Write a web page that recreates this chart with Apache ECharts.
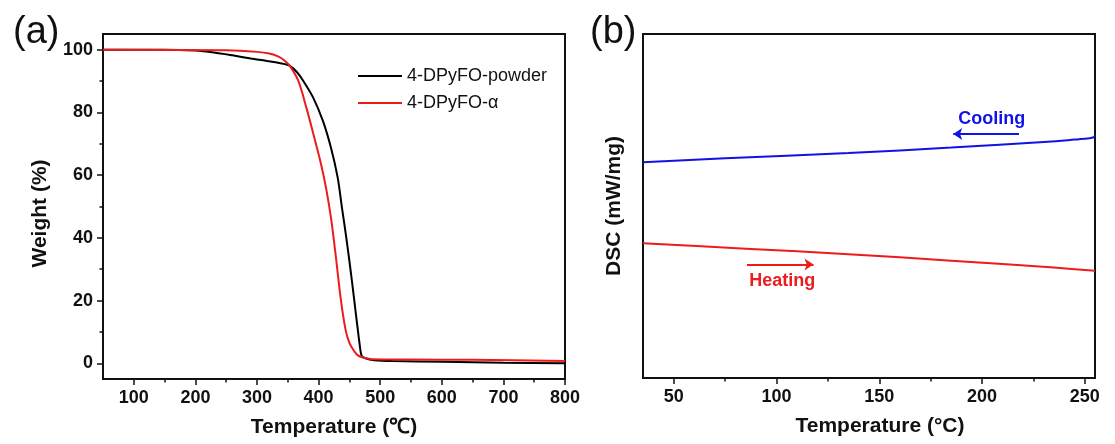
<!DOCTYPE html>
<html>
<head>
<meta charset="utf-8">
<script src="https://cdn.jsdelivr.net/npm/echarts@6/dist/echarts.min.js"></script>
<style>
  html, body { margin: 0; padding: 0; background: #fff; }
  #chart { width: 1115px; height: 444px; }
</style>
</head>
<body>
<div id="chart"></div>
<script>
// (a) TGA curves
const powderTemp = [50, 150, 200, 230, 260, 290, 310, 330, 345, 353, 365, 375, 391, 407, 420, 431, 438, 445, 453, 461, 467, 470, 476, 490, 520, 600, 700, 800];
const powderWeight = [100, 100, 99.7, 99.1, 98.2, 97.2, 96.6, 96.0, 95.4, 94.9, 92.8, 90.1, 84.8, 77.3, 68.8, 59.2, 49.5, 40, 28, 15, 5.5, 2.4, 1.6, 1.0, 0.7, 0.5, 0.2, 0];
const alphaTemp = [50, 250, 300, 320, 335, 345, 353, 367, 380, 393, 404, 412, 420, 428, 436, 444, 450, 456, 462, 469, 487, 550, 650, 800];
const alphaWeight = [100, 99.8, 99.3, 98.8, 97.8, 96.5, 94.9, 90.1, 81.6, 72, 63.5, 56, 46.5, 34, 20.5, 10.5, 6.5, 4.4, 2.8, 2.0, 1.3, 1.2, 1.1, 0.7];
const tgaXLabels = [100, 200, 300, 400, 500, 600, 700, 800];
const tgaXMinor = [150, 250, 350, 450, 550, 650, 750];
const tgaYLabels = [0, 20, 40, 60, 80, 100];
const tgaYMinor = [10, 30, 50, 70, 90];

// (b) DSC curves
const coolTemp = [35, 75, 135, 185, 232, 245, 251, 254, 255];
const coolDsc = [62.7, 63.9, 65.4, 67.0, 68.7, 69.3, 69.6, 69.9, 70.5];
const heatTemp = [35, 85, 135, 185, 235, 255];
const heatDsc = [39.2, 37.6, 36.0, 34.1, 32.1, 31.2];
const dscXLabels = [50, 100, 150, 200, 250];
const dscXMinor = [75, 125, 175, 225];
const coolArrow = [[218, 70.9], [186, 70.9]];
const coolText = [204.7, 75.2];
const heatArrow = [[85.6, 33.0], [118, 33.0]];
const heatText = [102.8, 28.2];

const FONT = '"Liberation Sans", Arial, sans-serif';
const BLUE = '#1212e8';
const RED = '#ec1c1c';

const zip = (xs, ys) => xs.map((x, i) => [x, ys[i]]);

const tickLabel = { fontFamily: FONT, fontSize: 18, fontWeight: 'bold', color: '#111' };
const axisName = { fontFamily: FONT, fontSize: 21, fontWeight: 'bold', color: '#111' };
const line = { show: true, onZero: false, lineStyle: { color: '#111', width: 2 } };

function mainX(grid, min, max, labels, name, extra) {
  return Object.assign({
    gridIndex: grid, type: 'value', min: min, max: max, position: 'bottom',
    axisLine: line,
    axisTick: { show: true, inside: false, length: 6, customValues: labels, lineStyle: { color: '#111', width: 1.5 } },
    axisLabel: { show: true, customValues: labels, margin: 10, ...tickLabel },
    splitLine: { show: false },
    name: name, nameLocation: 'middle', nameGap: 38, nameTextStyle: axisName
  }, extra || {});
}
function minorX(grid, min, max, ticks) {
  return {
    gridIndex: grid, type: 'value', min: min, max: max, position: 'bottom',
    axisLine: { show: false, onZero: false },
    axisTick: { show: true, length: 3.5, customValues: ticks, lineStyle: { color: '#111', width: 1.5 } },
    axisLabel: { show: false }, splitLine: { show: false }
  };
}

const chart = echarts.init(document.getElementById('chart'));
chart.setOption({
  backgroundColor: '#fff',
  animation: false,
  title: [
    { text: '(a)', left: 8, top: 9, textStyle: { fontFamily: FONT, fontSize: 38, fontWeight: 'normal', color: '#111' } },
    { text: '(b)', left: 585, top: 9, textStyle: { fontFamily: FONT, fontSize: 38, fontWeight: 'normal', color: '#111' } }
  ],
  legend: {
    orient: 'vertical', left: 353, top: 62, itemGap: 9, itemWidth: 44, itemHeight: 2.2, icon: 'rect',
    data: ['4-DPyFO-powder', '4-DPyFO-α'],
    textStyle: { fontFamily: FONT, fontSize: 18, color: '#111' }
  },
  grid: [
    { left: 103, top: 34, width: 462, height: 345, show: true, borderColor: '#111', borderWidth: 2 },
    { left: 643, top: 34, width: 452, height: 344, show: true, borderColor: '#111', borderWidth: 2 }
  ],
  xAxis: [
    mainX(0, 50, 800, tgaXLabels, 'Temperature (℃)'),
    minorX(0, 50, 800, tgaXMinor),
    mainX(1, 35, 255, dscXLabels, 'Temperature (°C)', { nameTextStyle: Object.assign({ padding: [0, 0, 0, 22] }, axisName) }),
    minorX(1, 35, 255, dscXMinor)
  ],
  yAxis: [
    {
      gridIndex: 0, type: 'value', min: -5, max: 105, position: 'left',
      axisLine: line,
      axisTick: { show: true, length: 6, customValues: tgaYLabels, lineStyle: { color: '#111', width: 1.5 } },
      axisLabel: { show: true, customValues: tgaYLabels, margin: 10, ...tickLabel },
      splitLine: { show: false },
      name: 'Weight (%)', nameLocation: 'middle', nameGap: 52, nameTextStyle: Object.assign({ padding: [0, 14, 0, 0] }, axisName)
    },
    {
      gridIndex: 0, type: 'value', min: -5, max: 105, position: 'left',
      axisLine: { show: false, onZero: false },
      axisTick: { show: true, length: 3.5, customValues: tgaYMinor, lineStyle: { color: '#111', width: 1.5 } },
      axisLabel: { show: false }, splitLine: { show: false }
    },
    {
      gridIndex: 1, type: 'value', min: 0, max: 100, position: 'left',
      axisLine: line, axisTick: { show: false }, axisLabel: { show: false }, splitLine: { show: false },
      name: 'DSC (mW/mg)', nameLocation: 'middle', nameGap: 18, nameTextStyle: axisName
    }
  ],
  series: [
    {
      name: '4-DPyFO-powder', type: 'line', xAxisIndex: 0, yAxisIndex: 0,
      data: zip(powderTemp, powderWeight), symbol: 'none', smooth: 0.3,
      lineStyle: { color: '#000', width: 2 }, itemStyle: { color: '#000' }
    },
    {
      name: '4-DPyFO-α', type: 'line', xAxisIndex: 0, yAxisIndex: 0,
      data: zip(alphaTemp, alphaWeight), symbol: 'none', smooth: 0.3,
      lineStyle: { color: RED, width: 2 }, itemStyle: { color: RED }
    },
    {
      name: 'Cooling', type: 'line', xAxisIndex: 2, yAxisIndex: 2,
      data: zip(coolTemp, coolDsc), symbol: 'none', smooth: 0.3,
      lineStyle: { color: BLUE, width: 2 },
      markLine: {
        silent: true, symbol: ['none', 'arrow'], symbolSize: 9,
        lineStyle: { color: BLUE, width: 2, type: 'solid' }, label: { show: false },
        data: [[{ coord: coolArrow[0] }, { coord: coolArrow[1] }]]
      },
      markPoint: {
        silent: true, symbol: 'circle', symbolSize: 0,
        label: { show: true, position: 'inside', formatter: '{b}', fontFamily: FONT, fontSize: 18, fontWeight: 'bold', color: BLUE },
        data: [{ name: 'Cooling', coord: coolText }]
      }
    },
    {
      name: 'Heating', type: 'line', xAxisIndex: 2, yAxisIndex: 2,
      data: zip(heatTemp, heatDsc), symbol: 'none', smooth: 0.3,
      lineStyle: { color: RED, width: 2 },
      markLine: {
        silent: true, symbol: ['none', 'arrow'], symbolSize: 9,
        lineStyle: { color: RED, width: 2, type: 'solid' }, label: { show: false },
        data: [[{ coord: heatArrow[0] }, { coord: heatArrow[1] }]]
      },
      markPoint: {
        silent: true, symbol: 'circle', symbolSize: 0,
        label: { show: true, position: 'inside', formatter: '{b}', fontFamily: FONT, fontSize: 18, fontWeight: 'bold', color: RED },
        data: [{ name: 'Heating', coord: heatText }]
      }
    }
  ]
});
</script>
</body>
</html>
